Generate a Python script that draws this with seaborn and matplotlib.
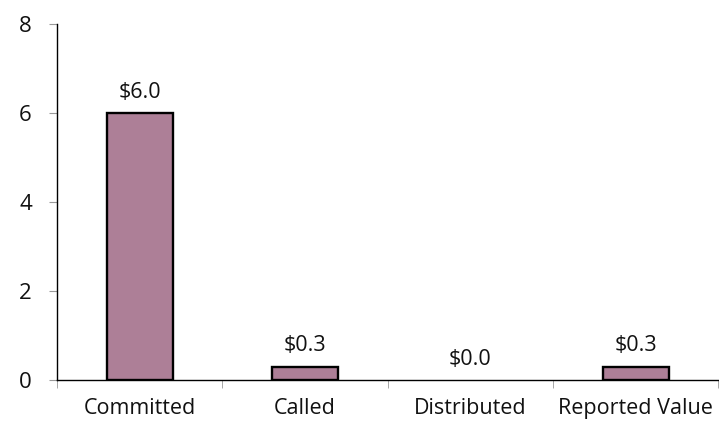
import matplotlib
matplotlib.use("Agg")
import matplotlib.pyplot as plt
import seaborn as sns
import pandas as pd

categories = ["Committed", "Called", "Distributed", "Reported Value"]
values = [6.0, 0.3, 0.0, 0.3]
labels = ["$6.0", "$0.3", "$0.0", "$0.3"]
yticks = [0, 2, 4, 6, 8]

sns.set_style("white")
plt.rcParams['font.family'] = ['Open Sans', 'DejaVu Sans']

df = pd.DataFrame({"cat": categories, "val": values})

fig = plt.figure(figsize=(7.19, 4.22), dpi=100)
ax = fig.add_axes([57/719, 42/422, 1 - 57/719 - 0.001, 356/422])

sns.barplot(data=df, x="cat", y="val", color="#AD7F97", saturation=1,
            edgecolor="black", linewidth=1.7, width=0.4, ax=ax)
for p, v in zip(ax.patches, values):
    if v == 0:
        p.set_linewidth(0)

ax.set_xlim(-0.5, 3.5)
ax.set_ylim(0, 8)
ax.set_yticks(yticks)
ax.set_xlabel("")
ax.set_ylabel("")

for i, (v, lab) in enumerate(zip(values, labels)):
    ax.annotate(lab, (i, v), xytext=(0, 11), textcoords="offset points",
                ha="center", va="baseline", fontsize=15.5, color="#111111")

for s in ["top", "right"]:
    ax.spines[s].set_visible(False)
ax.spines["left"].set_color("black")
ax.spines["bottom"].set_color("black")
ax.spines["left"].set_linewidth(1.0)
ax.spines["bottom"].set_linewidth(1.0)

ax.tick_params(axis="y", left=True, length=6, color="#999999", labelsize=16,
               pad=12, labelcolor="#111111")
ax.tick_params(axis="x", which="major", bottom=False, length=0, labelsize=15.5,
               pad=13, labelcolor="#111111")
ax.set_xticks([-0.5, 0.5, 1.5, 2.5, 3.5], minor=True)
ax.tick_params(axis="x", which="minor", bottom=True, length=6, color="#999999")

fig.savefig("out.png", dpi=100)
